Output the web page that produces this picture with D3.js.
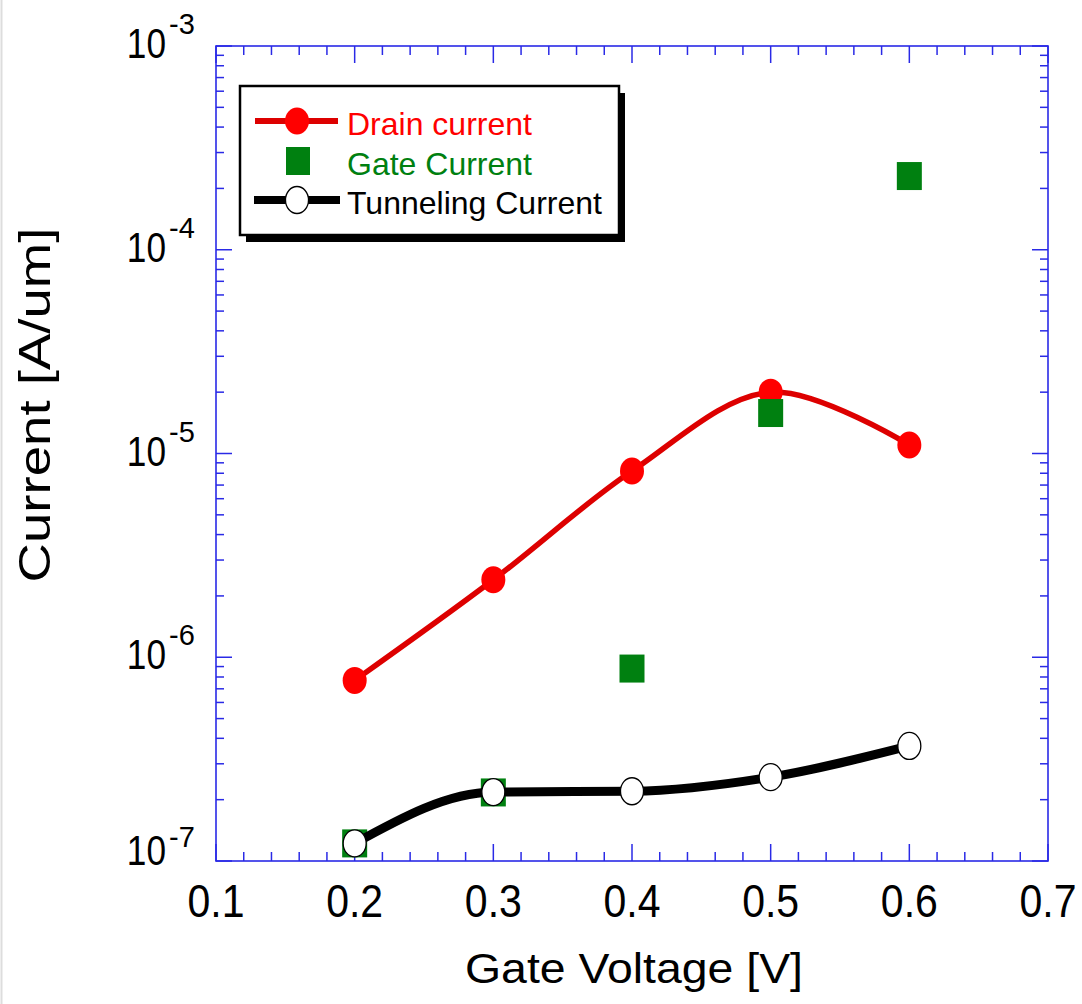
<!DOCTYPE html>
<html>
<head>
<meta charset="utf-8">
<script src="https://cdn.jsdelivr.net/npm/d3@7"></script>
<style>
  html, body { margin: 0; padding: 0; background: #fff; }
  svg { display: block; font-family: "Liberation Sans", Arial, Helvetica, sans-serif; }
</style>
</head>
<body>
<svg id="chart" width="1082" height="1004"></svg>
<script>
// ---- data ----
const voltage = [0.2, 0.3, 0.4, 0.5, 0.6];
const drainCurrent = [7.7e-7, 2.4e-6, 8.2e-6, 2.0e-5, 1.1e-5];
const gateCurrent = [1.22e-7, 2.17e-7, 8.8e-7, 1.58e-5, 2.3e-4];
const tunnelingCurrent = [1.22e-7, 2.18e-7, 2.2e-7, 2.58e-7, 3.67e-7];
const xTickValues = [0.1, 0.2, 0.3, 0.4, 0.5, 0.6, 0.7];
const xTickLabels = ["0.1", "0.2", "0.3", "0.4", "0.5", "0.6", "0.7"];
const yTickExponents = [-7, -6, -5, -4, -3];
const legendLabels = ["Drain current", "Gate Current", "Tunneling Current"];
const xTitle = "Gate Voltage [V]";
const yTitle = "Current [A/um]";

// ---- layout ----
const L = 216, R = 1048, T = 46, B = 861;
const svg = d3.select("#chart");
const x = d3.scaleLinear().domain([0.1, 0.7]).range([L, R]);
const y = d3.scaleLog().domain([1e-7, 1e-3]).range([B, T]);

const axisColor = "#2a2ae6";
const red = "#ff0000", redLine = "#dd0000", green = "#008010";

// faint left page edge
svg.append("line").attr("x1", 1.5).attr("x2", 1.5).attr("y1", 0).attr("y2", 1004)
  .attr("stroke", "#dddddd").attr("stroke-width", 2);

// ---- ticks ----
const xMinor = d3.range(0.1, 0.7001, 0.02).map(v => +v.toFixed(3));
const yMinor = [];
for (let e = -7; e < -3; e++) for (let m = 2; m <= 9; m++) yMinor.push(m * Math.pow(10, e));
const yMajor = yTickExponents.map(e => Math.pow(10, e));

const ax = svg.append("g").attr("stroke", axisColor).attr("stroke-width", 1.5);
xMinor.forEach(v => {
  const major = xTickValues.some(t => Math.abs(t - v) < 1e-6);
  const len = major ? 17 : 9;
  ax.append("line").attr("x1", x(v)).attr("x2", x(v)).attr("y1", B).attr("y2", B - len);
  ax.append("line").attr("x1", x(v)).attr("x2", x(v)).attr("y1", T).attr("y2", T + len);
});
yMinor.forEach(v => {
  ax.append("line").attr("x1", L).attr("x2", L + 8).attr("y1", y(v)).attr("y2", y(v));
  ax.append("line").attr("x1", R).attr("x2", R - 8).attr("y1", y(v)).attr("y2", y(v));
});
yMajor.forEach(v => {
  ax.append("line").attr("x1", L).attr("x2", L + 16).attr("y1", y(v)).attr("y2", y(v));
  ax.append("line").attr("x1", R).attr("x2", R - 16).attr("y1", y(v)).attr("y2", y(v));
});
svg.append("rect").attr("x", L).attr("y", T).attr("width", R - L).attr("height", B - T)
  .attr("fill", "none").attr("stroke", axisColor).attr("stroke-width", 1.6);

// ---- tick labels ----
xTickValues.forEach((v, i) => {
  svg.append("text").attr("x", x(v)).attr("y", 917).attr("text-anchor", "middle")
    .attr("font-size", 46).attr("textLength", 57)
    .attr("lengthAdjust", "spacingAndGlyphs").attr("fill", "#000").text(xTickLabels[i]);
});
yTickExponents.forEach((e, i) => {
  const ty = y(Math.pow(10, e));
  const last = i === 0;
  const base = last ? ty + 4 : ty + 12;
  const sup = last ? ty - 14 : ty - 12;
  svg.append("text").attr("transform", `translate(166,${base}) scale(0.82,1)`)
    .attr("text-anchor", "end").attr("font-size", 43)
    .attr("fill", "#000").text("10");
  svg.append("text").attr("x", 169).attr("y", sup).attr("font-size", 29)
    .attr("fill", "#000").text(String(e));
});

// ---- axis titles ----
svg.append("text").attr("x", 634).attr("y", 983).attr("text-anchor", "middle")
  .attr("font-size", 43).attr("textLength", 338).attr("lengthAdjust", "spacingAndGlyphs")
  .attr("fill", "#000").text(xTitle);
svg.append("text").attr("transform", "translate(50,405) rotate(-90)").attr("text-anchor", "middle")
  .attr("font-size", 45).attr("textLength", 355).attr("lengthAdjust", "spacingAndGlyphs")
  .attr("fill", "#000").text(yTitle);

// ---- series ----
const lineCR = d3.line().x(d => x(d[0])).y(d => y(d[1])).curve(d3.curveCatmullRom.alpha(0.5));
const lineMono = d3.line().x(d => x(d[0])).y(d => y(d[1])).curve(d3.curveMonotoneX);
const drainPts = voltage.map((v, i) => [v, drainCurrent[i]]);
const gatePts = voltage.map((v, i) => [v, gateCurrent[i]]);
const tunPts = voltage.map((v, i) => [v, tunnelingCurrent[i]]);

svg.append("path").attr("d", lineCR(drainPts)).attr("fill", "none")
  .attr("stroke", redLine).attr("stroke-width", 5.5);
svg.selectAll(".dm").data(drainPts).enter().append("ellipse")
  .attr("cx", d => x(d[0])).attr("cy", d => y(d[1])).attr("rx", 12).attr("ry", 13.5)
  .attr("fill", red);
svg.selectAll(".gm").data(gatePts).enter().append("rect")
  .attr("x", d => x(d[0]) - 12.5).attr("y", d => y(d[1]) - 14)
  .attr("width", 25).attr("height", 28).attr("fill", green);
svg.append("path").attr("d", lineMono(tunPts)).attr("fill", "none")
  .attr("stroke", "#000").attr("stroke-width", 9);
svg.selectAll(".tm").data(tunPts).enter().append("ellipse")
  .attr("cx", d => x(d[0])).attr("cy", d => y(d[1])).attr("rx", 11.5).attr("ry", 13.5)
  .attr("fill", "#fff").attr("stroke", "#000").attr("stroke-width", 1.3);

// ---- legend ----
const lg = svg.append("g");
lg.append("rect").attr("x", 246).attr("y", 93).attr("width", 379).attr("height", 149).attr("fill", "#000");
lg.append("rect").attr("x", 240).attr("y", 86).attr("width", 379).attr("height", 149)
  .attr("fill", "#fff").attr("stroke", "#000").attr("stroke-width", 2.5);
const rows = [121, 161, 200];
const baselines = [135, 175, 214];
const colors = [red, green, "#000"];
lg.append("line").attr("x1", 255).attr("x2", 338).attr("y1", rows[0]).attr("y2", rows[0])
  .attr("stroke", redLine).attr("stroke-width", 6);
lg.append("ellipse").attr("cx", 297).attr("cy", rows[0]).attr("rx", 12).attr("ry", 13.5).attr("fill", red);
lg.append("rect").attr("x", 286).attr("y", 147).attr("width", 24).attr("height", 28).attr("fill", green);
lg.append("line").attr("x1", 254).attr("x2", 340).attr("y1", rows[2]).attr("y2", rows[2])
  .attr("stroke", "#000").attr("stroke-width", 8);
lg.append("ellipse").attr("cx", 297).attr("cy", rows[2]).attr("rx", 11.5).attr("ry", 13.5)
  .attr("fill", "#fff").attr("stroke", "#000").attr("stroke-width", 1.3);
legendLabels.forEach((t, i) => {
  lg.append("text").attr("x", 347).attr("y", baselines[i]).attr("font-size", 32)
    .attr("fill", colors[i]).text(t);
});
</script>
</body>
</html>
